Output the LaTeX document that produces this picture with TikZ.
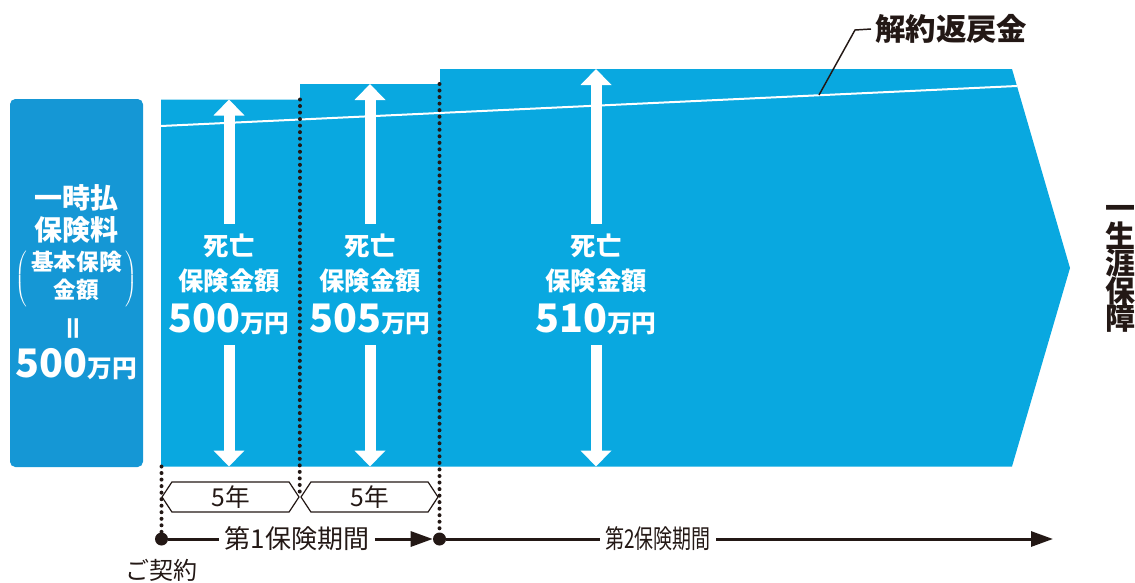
\documentclass[tikz,border=0pt]{standalone}
\usepackage{fontspec}
\setmainfont{Noto Sans CJK JP}
\usetikzlibrary{arrows.meta, positioning, shapes.symbols}
\definecolor{lifeblue}{HTML}{09A8E0}
\definecolor{premiumblue}{HTML}{1597D5}
\definecolor{ink}{HTML}{231815}
\newcommand{\manyen}[1]{{\fontsize{29.5pt}{30pt}\selectfont #1}{\fontsize{18.5pt}{20pt}\selectfont 万円}}
\newcommand{\tightlines}{\lineskiplimit=-20pt\relax}
\tikzset{
    premiumbox/.style={rectangle, fill=premiumblue, rounded corners=4pt, minimum width=99.75pt, minimum height=276pt, inner sep=0pt},
    whitetext/.style={text=white, font=\bfseries, align=center, inner sep=0pt},
    deathlabel/.style={text=white, align=center, inner xsep=0pt, inner ysep=7.5pt, font=\bfseries\fontsize{19pt}{26.25pt}\selectfont},
    deatharrow/.style={-{Triangle[width=22.5pt, length=12pt]}, white, line width=8.25pt},
    surrenderline/.style={white, line width=1.5pt},
    surrenderlabel/.style={text=ink, inner xsep=3pt, font=\bfseries\fontsize{22.8pt}{24pt}\selectfont},
    leader/.style={ink, line width=1.1pt},
    guide/.style={ink, line width=3pt, line cap=round, dash pattern=on 0pt off 4.9pt},
    yearbox/.style={signal, signal to=east and west, signal pointer angle=113, draw=ink, line width=0.9pt, minimum width=102.75pt, minimum height=22.5pt, inner sep=0pt, text=ink, font=\fontsize{18.5pt}{20pt}\selectfont},
    dot/.style={circle, fill=ink, minimum size=9.75pt, inner sep=0pt},
    periodlabel/.style={text=ink, inner xsep=4pt, inner ysep=0pt, font=\fontsize{19.5pt}{22pt}\selectfont},
    contractlabel/.style={text=ink, inner sep=0pt, font=\fontsize{18pt}{20pt}\selectfont},
    sidelabel/.style={text=ink, align=center, inner sep=0pt, font=\bfseries\fontsize{22.5pt}{20.7pt}\selectfont\tightlines},
    timeline/.style={ink, line width=2.25pt},
    timearrow/.style={timeline, -{Triangle[width=11.25pt, length=16.5pt]}},
}

\begin{document}
\begin{tikzpicture}[x=0.75pt, y=-0.75pt]
    \useasboundingbox (0,0) rectangle (1135,582);

    % Premium
    \node[premiumbox] (premium) at (76.5,283) {};
    \node[whitetext, font=\bfseries\fontsize{21pt}{24pt}\selectfont] (premiumtitle) at (76.5,214) {一時払\\保険料};
    \node[whitetext, font=\bfseries\fontsize{17pt}{20pt}\selectfont] (premiumbasis) at (76.5,279) {$\left(\mkern3mu\vcenter{\hbox{\begin{tabular}{@{}c@{}}基本保険\\金額\end{tabular}}}\mkern3mu\right)$};
    \node[whitetext, font=\bfseries\fontsize{21pt}{22pt}\selectfont] (premiumequal) at (76.5,328) {\rotatebox{90}{＝}};
    \node[whitetext] (premiumamount) at (76.5,364) {\manyen{500}};

    % Coverage
    \fill[lifeblue] (161,99.5) -- (300,99.5) -- (300,84) -- (440,84) -- (440,69) -- (1012,69) -- (1070,268) -- (1012,466.5) -- (161,466.5) -- cycle;
    \draw[surrenderline] (161,126) -- (1017,86);

    % Surrender value
    \coordinate (surrenderpt) at (819,95);
    \node[surrenderlabel, anchor=west] (surrender) at (871,29) {解約返戻金};
    \draw[leader] (surrenderpt) -- (855,30) -- (surrender.west);

    % Death benefit
    \node[deathlabel] (death1) at (229,284.5) {死亡\\保険金額\\[5pt]\manyen{500}};
    \node[deathlabel] (death2) at (370,284.5) {死亡\\保険金額\\[5pt]\manyen{505}};
    \node[deathlabel] (death3) at (596,284.5) {死亡\\保険金額\\[5pt]\manyen{510}};
    \coordinate (top1) at (229,99.5);
    \coordinate (top2) at (370,84);
    \coordinate (top3) at (596,69);
    \coordinate (base1) at (229,466.5);
    \coordinate (base2) at (370,466.5);
    \coordinate (base3) at (596,466.5);
    \draw[deatharrow] (death1.north) -- (top1);
    \draw[deatharrow] (death1.south) -- (base1);
    \draw[deatharrow] (death2.north) -- (top2);
    \draw[deatharrow] (death2.south) -- (base2);
    \draw[deatharrow] (death3.north) -- (top3);
    \draw[deatharrow] (death3.south) -- (base3);

    % Terms
    \node[yearbox] (term1) at (230.5,497) {5年};
    \node[yearbox] (term2) at (369.5,497) {5年};

    % Timeline
    \node[dot] (start) at (161.5,539) {};
    \node[dot] (renew) at (439.5,539) {};
    \node[periodlabel] (period1) at (297,539) {第1保険期間};
    \node[periodlabel] (period2) at (658,539) {\scalebox{0.73}[1]{第2保険期間}};
    \coordinate (lifeend) at (1053,539);
    \draw[timeline] (start) -- (period1);
    \draw[timearrow] (period1) -- (renew);
    \draw[timeline] (renew) -- (period2);
    \draw[timearrow] (period2) -- (lifeend);
    \node[contractlabel] (contract) at (161,570) {ご契約};

    % Guides
    \coordinate (guide0) at (161.5,466.5);
    \coordinate (guide1) at (300,99.5);
    \coordinate (guide2) at (439.5,84);
    \draw[guide] (guide0) -- (start);
    \draw[guide] (guide1) -- (term1.east);
    \draw[guide] (guide2) -- (renew);

    % Lifelong
    \node[sidelabel] (lifelong) at (1120,269) {一\\生\\涯\\保\\障};
\end{tikzpicture}
\end{document}
